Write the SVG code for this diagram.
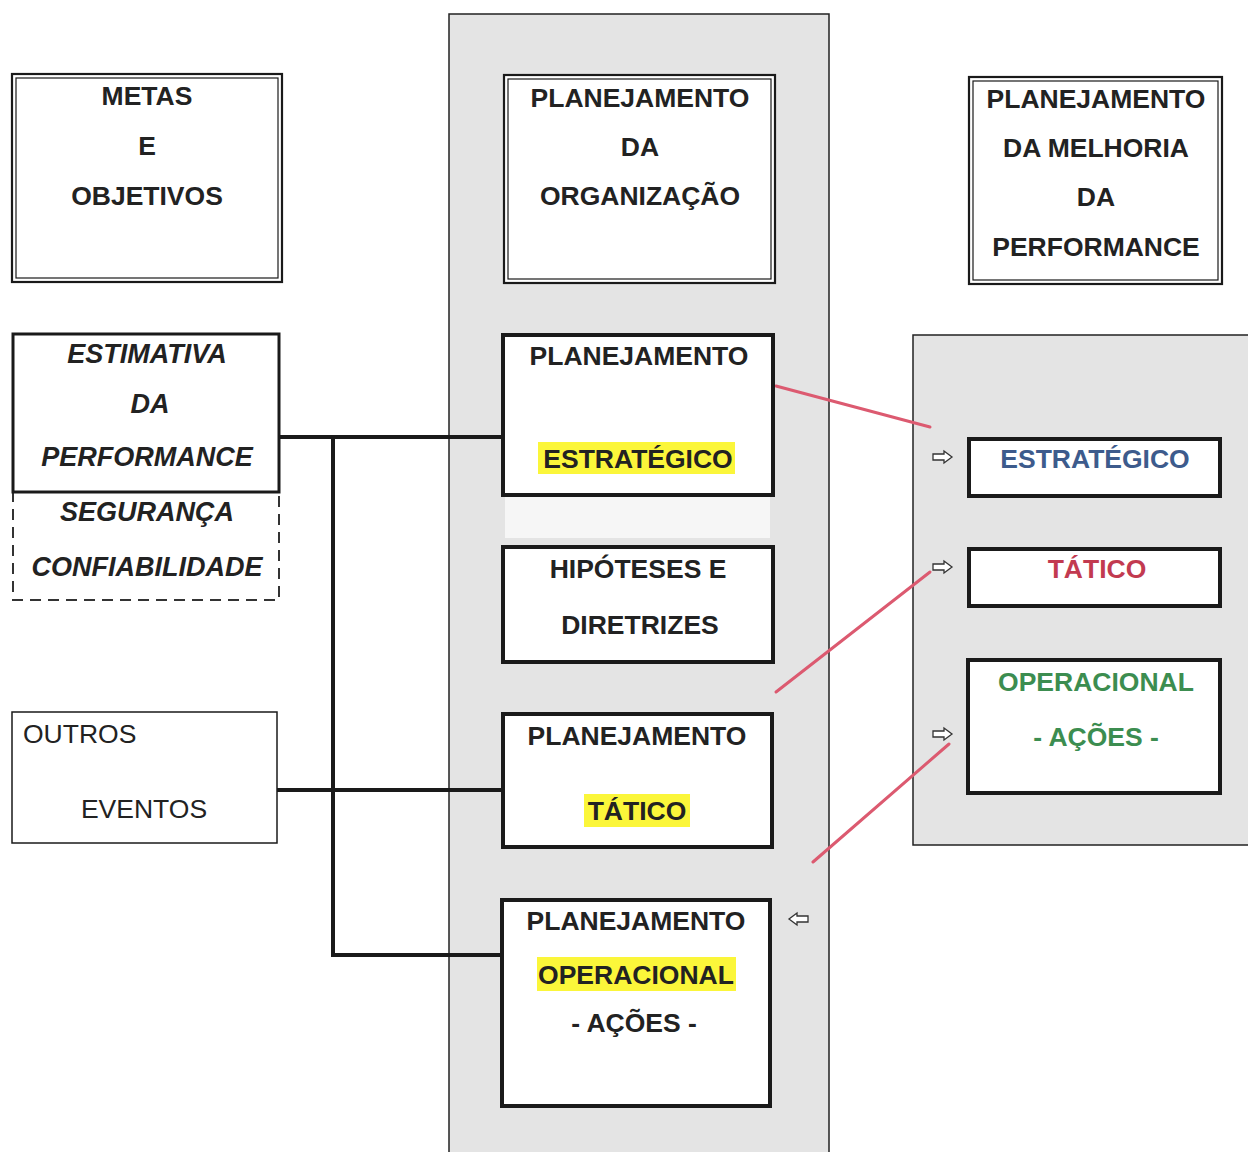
<svg xmlns="http://www.w3.org/2000/svg" width="1248" height="1152" viewBox="0 0 1248 1152">
  <style>
    .panel { fill: #e4e4e4; stroke: #222; stroke-width: 1.5; }
    .box { fill: #fff; stroke: #1a1a1a; }
    .thick { stroke-width: 4; }
    .med { stroke-width: 3; }
    .thin { stroke-width: 1.5; }
    .dbl-in { fill: none; stroke: #1a1a1a; stroke-width: 1.2; }
    .dbl-out { fill: #fff; stroke: #1a1a1a; stroke-width: 2.2; }
    .dash { fill: #fff; stroke: #333; stroke-width: 2; stroke-dasharray: 11 7; }
    .t { font-family: "Liberation Sans", Arial, sans-serif; font-size: 26.5px; font-weight: bold; fill: #222; text-anchor: middle; }
    .it { font-style: italic; font-size: 27px; }
    .reg { font-weight: normal; font-size: 26.5px; }
    .hl { fill: #fbf63a; }
    .blue { fill: #3d5b8c; }
    .red { fill: #c23a50; }
    .green { fill: #3c8d50; }
    .wire { fill: none; stroke: #1a1a1a; stroke-width: 4; }
    .link { fill: none; stroke: #dc5a70; stroke-width: 3; stroke-linecap: round; }
    .arr { fill: #fff; stroke: #333; stroke-width: 1.3; stroke-linejoin: miter; }
  </style>
  <defs>
    <!-- hollow block arrow pointing right, 19x12 -->
    <path id="hollow-arrow" d="M0,-3 H11 V-6 L19,0 L11,6 V3 H0 Z"/>
  </defs>

  <rect width="1248" height="1152" fill="#fff"/>

  <!-- background panels -->
  <rect class="panel" x="449" y="14" width="380" height="1150"/>
  <rect x="505" y="497" width="265" height="41" fill="#f6f6f6"/>
  <rect class="panel" x="913" y="335" width="345" height="510"/>

  <!-- connectors -->
  <g id="connectors">
    <path class="wire" d="M280,437 H503"/>
    <path class="wire" d="M333,437 V955 H501"/>
    <path class="wire" d="M277,790 H503"/>
    <line class="link" x1="776" y1="386" x2="930" y2="427"/>
    <line class="link" x1="776" y1="692" x2="930" y2="572"/>
    <line class="link" x1="813" y1="862" x2="949" y2="744"/>
    <use href="#hollow-arrow" class="arr" x="933" y="457"/>
    <use href="#hollow-arrow" class="arr" x="933" y="567"/>
    <use href="#hollow-arrow" class="arr" x="933" y="734"/>
    <use href="#hollow-arrow" class="arr" transform="translate(808,919) scale(-1,1)"/>
  </g>

  <!-- left column -->
  <g id="metas">
    <rect class="dbl-out" x="12" y="74" width="270" height="208"/>
    <rect class="dbl-in" x="16" y="78" width="262" height="200"/>
    <text class="t" x="147" y="105">METAS</text>
    <text class="t" x="147" y="155">E</text>
    <text class="t" x="147" y="205">OBJETIVOS</text>
  </g>

  <g id="estimativa">
    <rect class="dash" x="13" y="492" width="266" height="108"/>
    <rect class="box med" x="13" y="334" width="266" height="158"/>
    <text class="t it" x="147" y="363">ESTIMATIVA</text>
    <text class="t it" x="150" y="413">DA</text>
    <text class="t it" x="147" y="466">PERFORMANCE</text>
    <text class="t it" x="147" y="521">SEGURANÇA</text>
    <text class="t it" x="147" y="576">CONFIABILIDADE</text>
  </g>

  <g id="outros-eventos">
    <rect class="box thin" x="12" y="712" width="265" height="131"/>
    <text class="t reg" x="23" y="743" text-anchor="start" style="text-anchor:start">OUTROS</text>
    <text class="t reg" x="144" y="818">EVENTOS</text>
  </g>

  <!-- centre column -->
  <g id="planejamento-organizacao">
    <rect class="dbl-out" x="504" y="75" width="271" height="208"/>
    <rect class="dbl-in" x="508" y="79" width="263" height="200"/>
    <text class="t" x="640" y="107">PLANEJAMENTO</text>
    <text class="t" x="640" y="156">DA</text>
    <text class="t" x="640" y="205">ORGANIZAÇÃO</text>
  </g>

  <g id="planejamento-estrategico">
    <rect class="box thick" x="503" y="335" width="270" height="160"/>
    <rect class="hl" x="538" y="442" width="197" height="32"/>
    <text class="t" x="639" y="365">PLANEJAMENTO</text>
    <text class="t" x="638" y="468">ESTRATÉGICO</text>
  </g>

  <g id="hipoteses">
    <rect class="box thick" x="503" y="547" width="270" height="115"/>
    <text class="t" x="638" y="578">HIPÓTESES E</text>
    <text class="t" x="640" y="634">DIRETRIZES</text>
  </g>

  <g id="planejamento-tatico">
    <rect class="box thick" x="503" y="714" width="269" height="133"/>
    <rect class="hl" x="584" y="794" width="106" height="33"/>
    <text class="t" x="637" y="745">PLANEJAMENTO</text>
    <text class="t" x="637" y="820">TÁTICO</text>
  </g>

  <g id="planejamento-operacional">
    <rect class="box thick" x="502" y="900" width="268" height="206"/>
    <rect class="hl" x="537" y="957" width="199" height="34"/>
    <text class="t" x="636" y="930">PLANEJAMENTO</text>
    <text class="t" x="636" y="984">OPERACIONAL</text>
    <text class="t" x="634" y="1032">- AÇÕES -</text>
  </g>

  <!-- right column -->
  <g id="planejamento-melhoria">
    <rect class="dbl-out" x="969" y="77" width="253" height="207"/>
    <rect class="dbl-in" x="973" y="81" width="245" height="199"/>
    <text class="t" x="1096" y="108">PLANEJAMENTO</text>
    <text class="t" x="1096" y="157">DA MELHORIA</text>
    <text class="t" x="1096" y="206">DA</text>
    <text class="t" x="1096" y="256">PERFORMANCE</text>
  </g>

  <g id="nivel-estrategico">
    <rect class="box thick" x="969" y="439" width="251" height="57"/>
    <text class="t blue" x="1095" y="468">ESTRATÉGICO</text>
  </g>

  <g id="nivel-tatico">
    <rect class="box thick" x="969" y="549" width="251" height="57"/>
    <text class="t red" x="1097" y="578">TÁTICO</text>
  </g>

  <g id="nivel-operacional">
    <rect class="box thick" x="968" y="660" width="252" height="133"/>
    <text class="t green" x="1096" y="691">OPERACIONAL</text>
    <text class="t green" x="1096" y="746">- AÇÕES -</text>
  </g>
</svg>
